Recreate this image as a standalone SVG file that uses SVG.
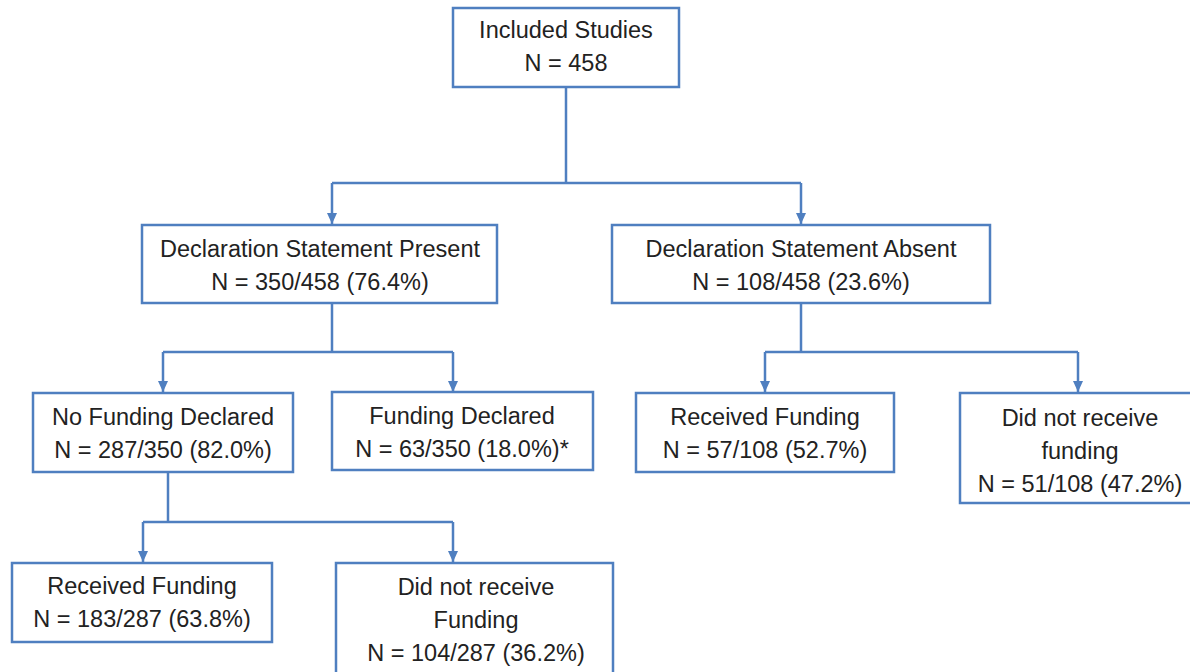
<svg xmlns="http://www.w3.org/2000/svg" width="1190" height="672" viewBox="0 0 1190 672">
<defs>
<style>
.box{fill:#fff;stroke:#4f7fc0;stroke-width:2.5}
.ln{fill:none;stroke:#4f7fc0;stroke-width:2.5}
text{font-family:"Liberation Sans",Arial,sans-serif;font-size:23.5px;fill:#222;text-anchor:middle}
</style>
<marker id="ah" markerWidth="12" markerHeight="10" refX="11" refY="5" orient="auto" markerUnits="userSpaceOnUse">
<path d="M0,0 L11,5 L0,10 Z" fill="#4f7fc0"/>
</marker>
</defs>
<rect width="1190" height="672" fill="#fff"/>
<g id="connectors">
<path class="ln" d="M566,87 V183"/>
<path class="ln" d="M332,183 H801"/>
<path class="ln" d="M332,183 V224" marker-end="url(#ah)"/>
<path class="ln" d="M801,183 V224" marker-end="url(#ah)"/>
<path class="ln" d="M332,303 V352"/>
<path class="ln" d="M163,352 H453"/>
<path class="ln" d="M163,352 V392" marker-end="url(#ah)"/>
<path class="ln" d="M453,352 V392" marker-end="url(#ah)"/>
<path class="ln" d="M801,303 V352"/>
<path class="ln" d="M765,352 H1078"/>
<path class="ln" d="M765,352 V392" marker-end="url(#ah)"/>
<path class="ln" d="M1078,352 V392" marker-end="url(#ah)"/>
<path class="ln" d="M168,472 V522"/>
<path class="ln" d="M143,522 H453"/>
<path class="ln" d="M143,522 V562" marker-end="url(#ah)"/>
<path class="ln" d="M453,522 V562" marker-end="url(#ah)"/>
</g>
<g id="included">
<rect class="box" x="453" y="8" width="226" height="79"/>
<text x="566" y="38">Included Studies</text>
<text x="566" y="71">N = 458</text>
</g>
<g id="present">
<rect class="box" x="142" y="225" width="355" height="78"/>
<text x="320" y="257">Declaration Statement Present</text>
<text x="320" y="290">N = 350/458 (76.4%)</text>
</g>
<g id="absent">
<rect class="box" x="612" y="225" width="378" height="78"/>
<text x="801" y="257">Declaration Statement Absent</text>
<text x="801" y="290">N = 108/458 (23.6%)</text>
</g>
<g id="nofunding">
<rect class="box" x="33" y="393" width="260" height="79"/>
<text x="163" y="425">No Funding Declared</text>
<text x="163" y="458">N = 287/350 (82.0%)</text>
</g>
<g id="funding">
<rect class="box" x="332" y="392" width="261" height="78"/>
<text x="462" y="424">Funding Declared</text>
<text x="462" y="457">N = 63/350 (18.0%)*</text>
</g>
<g id="abs-received">
<rect class="box" x="636" y="393" width="258" height="79"/>
<text x="765" y="425">Received Funding</text>
<text x="765" y="458">N = 57/108 (52.7%)</text>
</g>
<g id="abs-notreceived">
<rect class="box" x="960" y="393" width="236" height="110"/>
<text x="1080" y="426">Did not receive</text>
<text x="1080" y="459">funding</text>
<text x="1080" y="492">N = 51/108 (47.2%)</text>
</g>
<g id="nf-received">
<rect class="box" x="12" y="563" width="260" height="79"/>
<text x="142" y="594">Received Funding</text>
<text x="142" y="627">N = 183/287 (63.8%)</text>
</g>
<g id="nf-notreceived">
<rect class="box" x="336" y="563" width="277" height="115"/>
<text x="476" y="595">Did not receive</text>
<text x="476" y="628">Funding</text>
<text x="476" y="661">N = 104/287 (36.2%)</text>
</g>
</svg>
